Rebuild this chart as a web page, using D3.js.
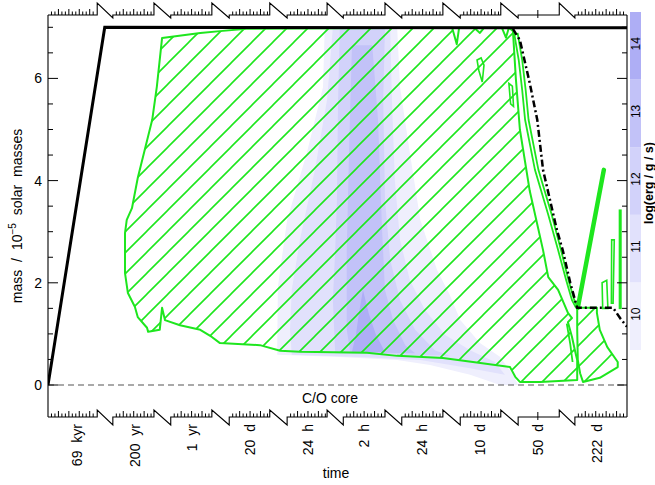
<!DOCTYPE html>
<html>
<head>
<meta charset="utf-8">
<script src="https://cdn.jsdelivr.net/npm/d3@7"></script>
<style>
body { margin: 0; background: #fff; }
text { font-family: "Liberation Sans", Arial, sans-serif; fill: #000; }
</style>
</head>
<body>
<script>
// time axis: ten broken segments, abscissa in percent of axis
let timeSegments = [[0, 8.5], [11.2, 18.3], [21.2, 28.3], [31.3, 38.3], [41.3, 48.2],
                    [51.0, 58.2], [61.1, 68.2], [71.2, 78.2], [81.2, 88.3], [91.0, 100]];
let timeLabels = ["69 kyr", "200 yr", "1 yr", "20 d", "24 h", "2 h", "24 h", "10 d", "50 d", "222 d"];
let timeLabelPos = [5, 15, 24.9, 34.9, 44.9, 54.6, 64.6, 74.6, 84.6, 94.8];

let massTickLabels = [0, 2, 4, 6];
let colorLevels = [10, 11, 12, 13, 14];
let colorbarLabels = ["10", "11", "12", "13", "14"];

// total mass (solid black)
let totalMass = [[0, 0], [9.8, 7.0], [100, 6.99]];

// convective zone (hatched)
let convZone = [[19.7, 6.79], [26.3, 6.89], [30.2, 6.93], [34.3, 6.97], [67.7, 6.99], [69.8, 6.99], [70.6, 6.67],
    [71.0, 6.99], [73.6, 6.99], [74.6, 6.89], [75.3, 6.99], [78.4, 6.99], [79.1, 6.80], [79.6, 6.99], [80.3, 6.93],
    [80.8, 6.0], [81.5, 5.0], [83.2, 3.8], [85.5, 2.64], [86.4, 2.11], [88.1, 1.86], [89.8, 1.41], [90.5, 1.31],
    [89.8, 1.23], [90.5, 0.94], [91.0, 0.68], [91.4, 0.49], [91.4, 0.10], [85.0, 0.06], [81.5, 0.06], [80.7, 0.16],
    [79.8, 0.35], [73.4, 0.45], [68.2, 0.53], [60.3, 0.57], [55.1, 0.63], [43.5, 0.65], [40.1, 0.67], [36.6, 0.78],
    [29.7, 0.82], [28.3, 0.94], [26.3, 1.08], [22.8, 1.17], [20.2, 1.27], [19.7, 1.51], [19.3, 1.08], [17.3, 1.04],
    [17.1, 1.12], [15.5, 1.33], [15.0, 1.53], [13.8, 1.80], [13.3, 2.19], [13.3, 2.97], [13.6, 3.23], [14.5, 3.46],
    [15.5, 4.05], [18.0, 5.19], [18.8, 5.84]];
let convZone2 = [[91.4, 1.51], [94.8, 1.51], [94.8, 1.41], [95.3, 1.08], [96.6, 0.74], [98.4, 0.45], [98.4, 0.35],
    [95.3, 0.14], [92.4, 0.06], [91.9, 0.23], [91.5, 0.49], [91.4, 1.08]];

// small convective islands and shells (outline only)
let island1 = [[74.1, 6.36], [74.8, 6.40], [75.3, 6.26], [75.0, 5.93], [74.4, 6.16]];
let island2 = [[79.6, 5.90], [80.2, 5.85], [80.4, 5.45], [79.9, 5.50]];
let island3 = [[95.7, 2.0], [96.5, 2.05], [96.7, 1.5], [95.8, 1.5]];
let shellA = [[80.5, 6.89], [81.3, 6.36], [81.9, 5.77], [82.4, 5.19], [84.1, 4.21], [86.4, 3.33], [88.1, 2.64],
    [89.5, 2.05], [90.5, 1.66], [91.2, 1.51]];
let shellB = [[81.1, 6.89], [81.9, 6.36], [82.5, 5.77], [83.0, 5.19], [84.7, 4.21], [87.0, 3.33], [88.6, 2.64],
    [89.9, 2.05], [90.9, 1.66], [91.5, 1.51]];
let shellC = [[89.6, 1.20], [90.2, 0.80], [90.6, 0.45]];
let streak = [[96.0, 4.21], [91.5, 1.51]];
let spikeA = [[98.7, 3.42], [98.7, 1.50], [98.95, 1.50], [98.95, 3.42]];
let spikeB = [[97.35, 2.84], [97.3, 1.60], [97.6, 1.60], [97.8, 2.84]];

// burning zones, log(erg/g/s) >= level
let burn10 = [[47.8, 7.0], [60.3, 7.0], [60.8, 5.83], [62.5, 4.54], [64.3, 3.23], [67.2, 2.25], [69.4, 1.76],
    [71.2, 1.27], [74.6, 0.82], [78.1, 0.55], [80.3, 0.20], [81.2, 0.0], [78.1, 0.0], [72.9, 0.20], [66.0, 0.39],
    [60.3, 0.49], [50.4, 0.55], [39.6, 0.59], [39.6, 0.82], [39.7, 1.92], [41.3, 3.23], [44.7, 4.54], [47.5, 5.83]];
let burn11 = [[49.2, 7.0], [59.1, 7.0], [59.4, 5.58], [59.9, 4.01], [60.8, 2.84], [62.5, 2.05], [65.1, 1.47],
    [68.6, 0.98], [72.9, 0.68], [77.2, 0.45], [78.9, 0.20], [72.9, 0.33], [64.3, 0.49], [53.9, 0.55], [42.1, 0.59],
    [41.8, 1.08], [42.1, 1.86], [43.5, 2.84], [46.1, 4.21], [48.2, 5.58]];
let burn12 = [[50.4, 7.0], [58.2, 7.0], [57.9, 5.58], [58.2, 3.62], [59.1, 2.45], [60.8, 1.66], [63.4, 1.08],
    [66.8, 0.68], [69.4, 0.57], [49.6, 0.62], [49.2, 1.66], [49.6, 2.64], [49.9, 3.62], [50.1, 5.58]];
let burn13 = [[52.5, 6.65], [56.0, 6.65], [57.0, 5.19], [57.7, 3.03], [58.2, 1.86], [59.6, 1.27], [61.7, 0.78],
    [63.4, 0.62], [52.2, 0.64], [51.6, 1.08], [51.6, 2.64], [52.0, 4.60]];
let burn14 = [[54.4, 1.86], [55.4, 1.40], [56.6, 1.00], [58.2, 0.64], [52.5, 0.65], [53.2, 1.00], [53.7, 1.40]];

// C/O core boundary (dash-dot)
let coreEdge = [[80.3, 6.97], [81.5, 6.75], [83.2, 5.91], [84.5, 5.19], [85.5, 4.21], [87.9, 3.03], [88.9, 2.64],
    [90.2, 2.00], [91.4, 1.51], [97.6, 1.51], [98.8, 1.31], [100, 1.14]];

//---------------------------------------------------------------------------------------------------//

let green = '#1ee61e';
let width = 655, height = 485;
let frameTop = 15, frameBottom = 417;

let x = d3.scaleLinear().domain([0, 100]).range([48, 627]);
let y = d3.scaleLinear().domain([0, 7]).range([385, 27.3]);
let yBar = d3.scaleLinear().domain([10, 15]).range([350, 12]);
let burnColor = d3.scaleOrdinal().domain(colorLevels)
    .range(['#efeffd', '#e1e1fc', '#d2d2fa', '#c2c2f8', '#aeaef5']);

let svg = d3.select('body').append('svg').attr('width', width).attr('height', height);
let defs = svg.append('defs');
defs.append('clipPath').attr('id', 'plotClip').append('rect')
    .attr('x', x(0)).attr('y', frameTop)
    .attr('width', x(100) - x(0)).attr('height', frameBottom - frameTop);
let hatch = defs.append('pattern').attr('id', 'hatch')
    .attr('patternUnits', 'userSpaceOnUse').attr('width', 21).attr('height', 21);
hatch.append('path').attr('d', 'M-2,2 L2,-2 M0,21 L21,0 M19,23 L23,19')
    .attr('stroke', green).attr('stroke-width', 1.6);

let closed = d3.line().x(d => x(d[0])).y(d => y(d[1])).curve(d3.curveLinearClosed);
let open = d3.line().x(d => x(d[0])).y(d => y(d[1]));

let plot = svg.append('g').attr('clip-path', 'url(#plotClip)');

// burning levels
let burnZones = [[10, burn10], [11, burn11], [12, burn12], [13, burn13], [14, burn14]];
plot.selectAll('path.burn').data(burnZones).enter().append('path')
    .attr('class', 'burn')
    .attr('d', d => closed(d[1]))
    .attr('fill', d => burnColor(d[0]));

// convective zones
plot.selectAll('path.conv').data([convZone, convZone2]).enter().append('path')
    .attr('class', 'conv')
    .attr('d', d => closed(d))
    .attr('fill', 'url(#hatch)')
    .attr('stroke', green).attr('stroke-width', 2).attr('stroke-linejoin', 'round');

plot.selectAll('path.island').data([island1, island2, island3, spikeA, spikeB]).enter().append('path')
    .attr('class', 'island')
    .attr('d', d => closed(d))
    .attr('fill', 'none').attr('stroke', green).attr('stroke-width', 1.6);

plot.selectAll('path.shell').data([shellA, shellB, shellC]).enter().append('path')
    .attr('class', 'shell')
    .attr('d', d => open(d))
    .attr('fill', 'none').attr('stroke', green).attr('stroke-width', 1.8);

plot.append('path').attr('d', open(streak))
    .attr('fill', 'none').attr('stroke', green).attr('stroke-width', 4.5).attr('stroke-linecap', 'round');

// zero line
plot.append('path').attr('d', open([[0, 0], [100, 0]]))
    .attr('stroke', '#555').attr('stroke-width', 1.2).attr('stroke-dasharray', '6,4');

// core edge and total mass
plot.append('path').attr('d', open(coreEdge))
    .attr('fill', 'none').attr('stroke', '#000').attr('stroke-width', 2.5)
    .attr('stroke-dasharray', '7,3,2,3');
plot.append('path').attr('d', open(totalMass))
    .attr('fill', 'none').attr('stroke', '#000').attr('stroke-width', 3);

//---------------------------------------------------------------------------------------------------//
// broken time axes (top and bottom)
function timeAxis(lineY, zigUp, zigDown) {
    let d = 'M' + x(timeSegments[0][0]) + ',' + lineY;
    timeSegments.forEach((s, i) => {
        d += ' L' + x(s[1]) + ',' + lineY;
        if (i < timeSegments.length - 1) {
            let next = timeSegments[i + 1][0];
            d += ' L' + x(s[1]) + ',' + zigUp + ' L' + x(next) + ',' + zigDown + ' L' + x(next) + ',' + lineY;
        }
    });
    svg.append('path').attr('d', d).attr('fill', 'none').attr('stroke', '#000').attr('stroke-width', 1.1);

    let ticks = [];
    timeSegments.forEach((s, i) => {
        if (i === 8) {
            ticks.push({ v: timeLabelPos[i], a: 5, b: -3 });
        } else {
            for (let k = 1; s[0] + k * 0.6 < s[1] - 0.15; k++) {
                ticks.push({ v: s[0] + k * 0.6, a: (k % 3 === 0) ? 6 : 3.5, b: 0 });
            }
        }
    });
    svg.append('g').selectAll('line').data(ticks).enter().append('line')
        .attr('x1', t => x(t.v)).attr('x2', t => x(t.v))
        .attr('y1', t => lineY - t.b).attr('y2', t => lineY - t.a)
        .attr('stroke', '#000').attr('stroke-width', 1);
}
timeAxis(frameBottom, 410, 425);
timeAxis(frameTop, 3, 18);

svg.append('g').selectAll('text').data(timeLabels).enter().append('text')
    .attr('transform', (d, i) => 'translate(' + x(timeLabelPos[i]) + ',424) rotate(-90)')
    .attr('text-anchor', 'end').attr('dy', '0.35em')
    .attr('font-size', '14px').attr('word-spacing', '4px')
    .text(d => d);

// mass axes (left and right)
let massTicks = d3.range(0, 7.01, 0.5);
[[x(0), 1], [x(100), -1]].forEach(([ax, dir]) => {
    svg.append('line').attr('x1', ax).attr('x2', ax).attr('y1', frameTop).attr('y2', frameBottom)
        .attr('stroke', '#000').attr('stroke-width', 1.1);
    svg.append('g').selectAll('line').data(massTicks).enter().append('line')
        .attr('x1', ax).attr('x2', v => ax + dir * (v % 2 === 0 ? 10 : 5))
        .attr('y1', v => y(v)).attr('y2', v => y(v))
        .attr('stroke', '#000').attr('stroke-width', 1);
});
svg.append('g').selectAll('text').data(massTickLabels).enter().append('text')
    .attr('x', 42).attr('y', v => y(v)).attr('dy', '0.36em')
    .attr('text-anchor', 'end').attr('font-size', '14px')
    .text(v => v);

let yLabel = svg.append('text')
    .attr('transform', 'translate(22,216) rotate(-90)')
    .attr('text-anchor', 'middle').attr('font-size', '14px').attr('word-spacing', '4px');
yLabel.append('tspan').text('mass / 10');
yLabel.append('tspan').attr('font-size', '10px').attr('dy', '-6').text('\u22125');
yLabel.append('tspan').attr('dy', '6').text(' solar masses');

svg.append('text').attr('x', 336).attr('y', 478).attr('text-anchor', 'middle')
    .attr('font-size', '14px').text('time');
svg.append('text').attr('x', 330).attr('y', 403).attr('text-anchor', 'middle')
    .attr('font-size', '14px').text('C/O core');

// colour bar
let bar = svg.append('g');
bar.selectAll('rect').data(colorLevels).enter().append('rect')
    .attr('x', 630).attr('width', 11)
    .attr('y', l => yBar(l + 1)).attr('height', l => yBar(l) - yBar(l + 1))
    .attr('fill', l => burnColor(l));
bar.selectAll('text').data(colorLevels).enter().append('text')
    .attr('transform', l => 'translate(635.5,' + (yBar(l + 0.5) - 2) + ') rotate(-90)')
    .attr('text-anchor', 'middle').attr('dy', '0.35em').attr('font-size', '12px')
    .text((l, i) => colorbarLabels[i]);
svg.append('text')
    .attr('transform', 'translate(649,183) rotate(-90)')
    .attr('text-anchor', 'middle').attr('dy', '0.35em')
    .attr('font-size', '12.5px').attr('font-weight', 'bold')
    .text('log(erg / g / s)');
</script>
</body>
</html>
